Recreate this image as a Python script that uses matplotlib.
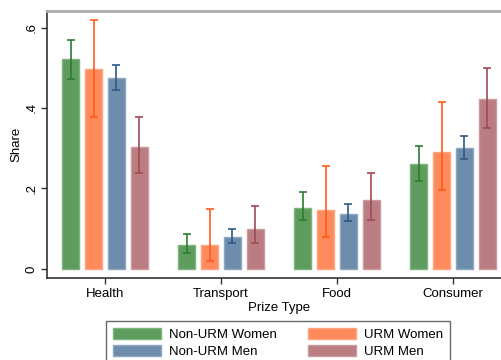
import matplotlib.pyplot as plt
import numpy as np

plt.rcParams['font.family'] = ['Liberation Sans', 'DejaVu Sans']

kategori = ['Health', 'Transport', 'Food', 'Consumer']
grup = ['Non-URM Women', 'URM Women', 'Non-URM Men', 'URM Men']

# nilai share per grup (urutan sama dengan kategori)
share = {
    'Non-URM Women': [0.521, 0.060, 0.152, 0.262],
    'URM Women':     [0.498, 0.059, 0.147, 0.291],
    'Non-URM Men':   [0.474, 0.080, 0.137, 0.301],
    'URM Men':       [0.303, 0.100, 0.171, 0.422],
}
batas_bawah = {
    'Non-URM Women': [0.472, 0.040, 0.122, 0.219],
    'URM Women':     [0.378, 0.021, 0.080, 0.196],
    'Non-URM Men':   [0.444, 0.065, 0.118, 0.274],
    'URM Men':       [0.238, 0.064, 0.122, 0.350],
}
batas_atas = {
    'Non-URM Women': [0.569, 0.087, 0.191, 0.306],
    'URM Women':     [0.619, 0.149, 0.256, 0.414],
    'Non-URM Men':   [0.507, 0.100, 0.161, 0.330],
    'URM Men':       [0.377, 0.157, 0.238, 0.499],
}

warna = ['#5e9c5e', '#ff8a5c', '#6e8cab', '#b97d82']
warna_tepi = ['#7fb37f', '#ffa47f', '#8fa8c2', '#cb9a9e']
warna_err = ['#2d7a30', '#ff5a1e', '#2e5a86', '#a04a55']

fig = plt.figure(figsize=(5.01, 3.6), dpi=100)
ax = fig.add_axes([47/501, (360-278)/360, (511-47)/501, (278-11)/360])

x = np.arange(1, len(kategori) + 1)
geser = [-0.297, -0.099, 0.099, 0.297]
lebar = 0.147

handles = []
for i, g in enumerate(grup):
    v = np.array(share[g])
    lo = v - np.array(batas_bawah[g])
    hi = np.array(batas_atas[g]) - v
    b = ax.bar(x + geser[i], v, width=lebar, color=warna[i],
               edgecolor=warna_tepi[i], linewidth=1, label=g, zorder=2)
    ax.errorbar(x + geser[i], v, yerr=[lo, hi], fmt='none', ecolor=warna_err[i],
                elinewidth=1.2, capsize=3, capthick=1.2, zorder=3)
    handles.append(b)

ax.set_xlim(0.5, 4.5)
ax.set_ylim(-0.0224, 0.641)
ax.set_xticks(x)
ax.set_xticklabels(kategori, fontsize=9.5)
ax.set_yticks([0, 0.2, 0.4, 0.6])
ax.set_yticklabels(['0', '.2', '.4', '.6'], fontsize=9.5, rotation=90, va='center')
ax.set_xlabel('Prize Type', fontsize=9.5, labelpad=2)
ax.set_ylabel('Share', fontsize=9.5, labelpad=2)

ax.tick_params(axis='both', length=4, width=1, color='#333333', pad=3)
for s in ['left', 'bottom']:
    ax.spines[s].set_color('#333333')
    ax.spines[s].set_linewidth(1.2)
ax.spines['top'].set_color('#aaaaaa')
ax.spines['top'].set_linewidth(2)
ax.spines['right'].set_visible(False)

urutan = [handles[0], handles[2], handles[1], handles[3]]
label_urut = [grup[0], grup[2], grup[1], grup[3]]
leg = fig.legend(urutan, label_urut, ncol=2, loc='upper left',
                 bbox_to_anchor=(106/501, 1 - 321/360), borderaxespad=0,
                 fontsize=9.5, handlelength=3.7, handleheight=0.9,
                 handletextpad=0.6, columnspacing=2.3, labelspacing=0.3,
                 fancybox=False, edgecolor='#444444', borderpad=0.5)
leg.get_frame().set_linewidth(1)

plt.savefig('out.png', dpi=100)
